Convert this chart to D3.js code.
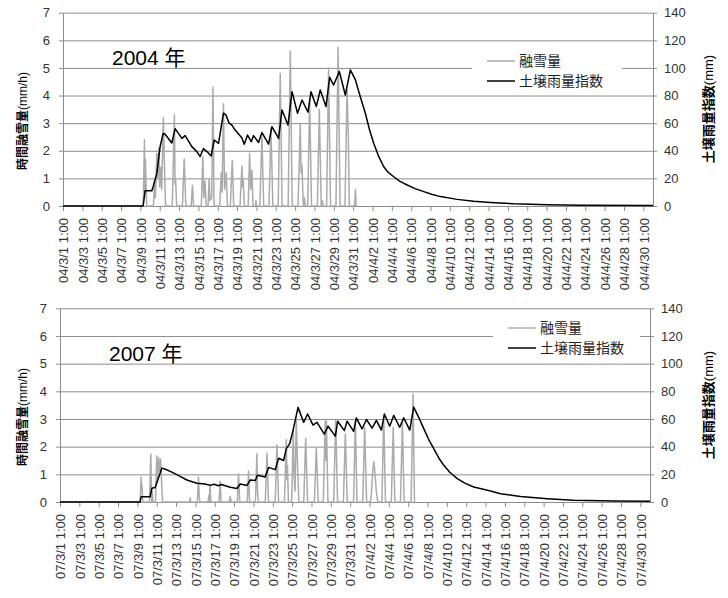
<!DOCTYPE html>
<html lang="ja">
<head>
<meta charset="UTF-8">
<title>融雪量と土壌雨量指数</title>
<script src="https://d3js.org/d3.v7.min.js"></script>
<style>
  body { margin: 0; background: #fff; }
  svg { font-family: "Liberation Sans", Arial, "Noto Sans CJK JP", sans-serif; }
  .grid line { stroke: #8c8c8c; stroke-width: 1; }
  .axis path, .axis line { stroke: #8c8c8c; }
  .axis text { fill: #333; font-size: 13px; }
</style>
</head>
<body>
<svg id="chart" width="728" height="598"></svg>
<script>
// x positions are in days since 3/1 1:00 (hourly data, Mar 1 - Apr 30)
const tickDays = [0, 2, 4, 6, 8, 10, 12, 14, 16, 18, 20, 22, 24, 26, 28, 30,
  32, 34, 36, 38, 40, 42, 44, 46, 48, 50, 52, 54, 56, 58, 60];
const tickDates = ['3/1', '3/3', '3/5', '3/7', '3/9', '3/11', '3/13', '3/15', '3/17', '3/19',
  '3/21', '3/23', '3/25', '3/27', '3/29', '3/31', '4/2', '4/4', '4/6', '4/8', '4/10',
  '4/12', '4/14', '4/16', '4/18', '4/20', '4/22', '4/24', '4/26', '4/28', '4/30'];
const leftTicks = [0, 1, 2, 3, 4, 5, 6, 7];
const rightTicks = [0, 20, 40, 60, 80, 100, 120, 140];
const seriesNames = ['融雪量', '土壌雨量指数'];

// 融雪量 (mm/h), [day, value]
const melt2004 = [
  [0, 0], [8.3, 0], [8.42, 2.4], [8.46, 0.5], [8.52, 1.7], [8.65, 0],
  [9.35, 0], [9.47, 0.9], [9.55, 0.3], [9.7, 1.9], [9.78, 1.0], [9.9, 2.1], [10.0, 0.7],
  [10.12, 1.4], [10.2, 0.6], [10.38, 3.2], [10.46, 1.9], [10.6, 0],
  [11.3, 0], [11.52, 3.3], [11.58, 0.8], [11.64, 1.0], [11.75, 0],
  [12.35, 0], [12.53, 1.7], [12.7, 0],
  [13.25, 0], [13.38, 0.75], [13.5, 0],
  [14.3, 0], [14.46, 1.8], [14.55, 0.3], [14.68, 0.9], [14.8, 0],
  [15.0, 0], [15.11, 1.0], [15.2, 0.2], [15.38, 0.3], [15.5, 4.3], [15.62, 0],
  [16.2, 0], [16.36, 1.2], [16.45, 0.5], [16.59, 3.7], [16.7, 0.6], [16.87, 1.2], [17.0, 0],
  [17.3, 0], [17.5, 1.65], [17.65, 0],
  [18.3, 0], [18.5, 1.45], [18.56, 0.7], [18.62, 1.0], [18.75, 0],
  [19.15, 0], [19.29, 1.9], [19.4, 0.6], [19.53, 1.3], [19.65, 0],
  [19.9, 0], [19.95, 0.2], [20.0, 0],
  [20.35, 0], [20.57, 2.5], [20.75, 0],
  [21.3, 0], [21.5, 2.8], [21.7, 0],
  [22.25, 0], [22.46, 4.8], [22.65, 0],
  [23.28, 0], [23.5, 5.6], [23.7, 0],
  [24.3, 0], [24.53, 2.95], [24.62, 1.2], [24.7, 1.5], [24.85, 0], [24.95, 0.3], [25.05, 0],
  [25.3, 0], [25.5, 3.85], [25.7, 0],
  [26.3, 0], [26.5, 3.5], [26.7, 0], [26.8, 0.2], [26.9, 0],
  [27.25, 0], [27.46, 5.0], [27.66, 0],
  [28.22, 0], [28.44, 5.75], [28.65, 0],
  [29.15, 0], [29.37, 4.2], [29.5, 2.5], [29.6, 0],
  [30.15, 0], [30.23, 0.6], [30.3, 0]
];

// 土壌雨量指数 (mm), [day, value]
const soil2004 = [
  [0, 0], [8.28, 0], [8.49, 11], [9.18, 11], [9.32, 14], [9.7, 23.6], [10.04, 43],
  [10.35, 52.5], [10.56, 52], [11.25, 45.6], [11.59, 56], [12.29, 49], [12.63, 51],
  [13.32, 43], [13.84, 39.4], [14.18, 35.8], [14.52, 41.6], [14.88, 39.4], [15.32, 36.2],
  [15.63, 47.8], [16.08, 45.4], [16.59, 67.2], [16.84, 66], [17.18, 60], [17.46, 58.6],
  [17.8, 55], [18.5, 49.2], [18.74, 44.8], [19.08, 51.4], [19.46, 46.6], [19.7, 51],
  [20.22, 46], [20.57, 53.2], [21.25, 44.8], [21.6, 57.4], [22.29, 49], [22.64, 69.6],
  [23.26, 58.6], [23.68, 82.8], [24.25, 67.2], [24.71, 76.8], [25.33, 68], [25.64, 82.8],
  [26.19, 72], [26.6, 84], [27.19, 72], [27.57, 93.2], [27.98, 87.6], [28.57, 97.4],
  [29.19, 80.4], [29.71, 98.6], [30.23, 91.4], [30.7, 80], [31.26, 67.2], [31.7, 55],
  [32.12, 45.4], [32.6, 36.5], [33.16, 28.4], [33.6, 24.5], [34.19, 21.2], [34.8, 18],
  [35.58, 15.2], [36.4, 12.6], [37.3, 10.4], [38.1, 8.5], [39.03, 6.8], [40.76, 4.8], [42.47, 3.4],
  [44.2, 2.6], [46.58, 1.6], [50.1, 0.9], [53.5, 0.5], [61, 0.3]
];

const melt2007 = [
  [0, 0], [8.28, 0], [8.39, 0.9], [8.44, 0.4], [8.48, 0.6], [8.56, 0],
  [9.25, 0], [9.39, 1.73], [9.48, 0], [9.55, 0.4], [9.62, 0],
  [9.88, 0], [10.0, 1.67], [10.08, 0.7], [10.2, 1.6], [10.3, 1.1], [10.4, 1.55], [10.5, 0.75], [10.6, 0],
  [13.4, 0], [13.46, 0.15], [13.52, 0],
  [14.2, 0], [14.32, 0.9], [14.38, 0.3], [14.45, 0],
  [15.3, 0], [15.4, 0.25], [15.44, 0], [15.5, 0.64], [15.6, 0],
  [16.45, 0], [16.56, 0.75], [16.66, 0],
  [17.5, 0], [17.6, 0.2], [17.7, 0],
  [18.33, 0], [18.46, 1.02], [18.58, 0],
  [19.36, 0], [19.49, 1.12], [19.6, 0],
  [20.2, 0], [20.36, 1.74], [20.42, 0.4], [20.5, 0],
  [21.22, 0], [21.4, 1.76], [21.55, 0],
  [22.25, 0], [22.43, 2.07], [22.6, 0],
  [23.2, 0], [23.4, 2.25], [23.46, 0.8], [23.52, 1.3], [23.62, 0],
  [23.95, 0], [24.12, 2.6], [24.2, 1.0], [24.3, 0.4], [24.43, 3.0], [24.55, 1.4], [24.7, 0],
  [25.2, 0], [25.4, 2.3], [25.6, 0],
  [26.3, 0], [26.5, 1.95], [26.7, 0],
  [27.22, 0], [27.43, 3.0], [27.5, 1.5], [27.55, 2.9], [27.7, 0],
  [28.3, 0], [28.5, 2.95], [28.7, 0],
  [29.3, 0], [29.5, 2.45], [29.7, 0],
  [30.35, 0], [30.54, 2.97], [30.7, 0],
  [31.3, 0], [31.5, 2.7], [31.7, 0],
  [32.1, 0], [32.2, 0.3], [32.35, 1.2], [32.45, 1.45], [32.55, 1.1], [32.7, 0.4], [32.85, 0],
  [33.28, 0], [33.47, 3.1], [33.65, 0],
  [34.25, 0], [34.45, 2.7], [34.62, 0],
  [35.2, 0], [35.4, 2.9], [35.58, 0],
  [36.3, 0], [36.5, 3.9], [36.58, 1.8], [36.65, 0]
];

const soil2007 = [
  [0, 0], [8.28, 0], [8.39, 3.8], [9.32, 3.8], [9.49, 9.9], [9.83, 10.5], [10.28, 19.4],
  [10.53, 24.5], [10.97, 23.5], [11.73, 21], [12.42, 18.5], [13.12, 15.9], [14.15, 13.5],
  [15.01, 13], [15.53, 12], [15.94, 12.8], [16.36, 11.8], [16.67, 12.6], [17.6, 10.6],
  [18.29, 9.8], [18.63, 13], [19.33, 12], [19.67, 15.9], [20.19, 15.5], [20.42, 19.4],
  [21.22, 18], [21.56, 25], [22.26, 23.4], [22.6, 31.6], [23.12, 30], [23.4, 38.6],
  [23.74, 42], [24.09, 51.6], [24.61, 68.4], [25.19, 57.6], [25.6, 63.6], [26.16, 55.6],
  [26.57, 57.6], [27.33, 49], [27.71, 54.8], [28.47, 47.6], [28.71, 58.4], [29.4, 51.6],
  [29.68, 58.4], [30.36, 51], [30.64, 60.8], [31.23, 52.8], [31.68, 59.6], [32.27, 53.4],
  [32.71, 59], [33.23, 52], [33.54, 63.6], [34.09, 54.8], [34.5, 62.6], [35.12, 54],
  [35.54, 60.8], [36.16, 52], [36.57, 68.6], [37.1, 61], [37.61, 53], [38.1, 45.5],
  [38.64, 38.6], [39.15, 32], [39.68, 26.5], [40.3, 21.5], [41.07, 16.9], [41.9, 13.5],
  [42.78, 10.8], [44.51, 8], [45.55, 6], [47.62, 4], [50.38, 2.4],
  [53.1, 1.2], [57.25, 0.7], [61, 0.5]
];

const panels = [
  { yy: '04', title: '2004 年', melt: melt2004, soil: soil2004,
    x0: 63, y0: 206, yTop: 12.7, clipTop: 0, clipBottom: 294,
    legX: 472, legW: 150, legY: 61 },
  { yy: '07', title: '2007 年', melt: melt2007, soil: soil2007,
    x0: 60, y0: 502, yTop: 308.3, clipTop: 294, clipBottom: 598,
    legX: 493, legW: 147, legY: 328 }
];

const svg = d3.select('#chart');
const plotW = 590;

panels.forEach((p, i) => {
  const clipId = 'clip' + i;
  svg.append('clipPath').attr('id', clipId)
    .append('rect').attr('x', 0).attr('y', p.clipTop).attr('width', 728)
    .attr('height', p.clipBottom - p.clipTop);

  const g = svg.append('g').attr('clip-path', `url(#${clipId})`);
  const x = d3.scaleLinear().domain([0, 61]).range([p.x0, p.x0 + plotW]);
  const yL = d3.scaleLinear().domain([0, 7]).range([p.y0, p.yTop]);
  const yR = d3.scaleLinear().domain([0, 140]).range([p.y0, p.yTop]);

  // gridlines
  g.append('g')
    .attr('class', 'grid')
    .attr('transform', `translate(${p.x0},0)`)
    .call(d3.axisLeft(yL).tickValues(leftTicks).tickSize(-plotW).tickFormat(''))
    .call(s => s.select('.domain').remove());

  // left axis
  g.append('g')
    .attr('class', 'axis')
    .attr('transform', `translate(${p.x0},0)`)
    .call(d3.axisLeft(yL).tickValues(leftTicks).tickFormat(d3.format('d'))
      .tickSize(4).tickSizeOuter(0).tickPadding(9));

  // right axis
  g.append('g')
    .attr('class', 'axis')
    .attr('transform', `translate(${p.x0 + plotW},0)`)
    .call(d3.axisRight(yR).tickValues(rightTicks).tickFormat(d3.format('d'))
      .tickSize(4).tickSizeOuter(0).tickPadding(7));

  // bottom axis with rotated date labels
  const xAxis = g.append('g')
    .attr('class', 'axis')
    .attr('transform', `translate(0,${p.y0})`)
    .call(d3.axisBottom(x).tickValues(tickDays).tickSize(5).tickSizeOuter(0)
      .tickFormat((d, k) => `${p.yy}/${tickDates[k]} 1:00`));
  xAxis.selectAll('text')
    .attr('text-anchor', 'end')
    .attr('transform', 'rotate(-90)')
    .attr('x', -12)
    .attr('y', 0)
    .attr('dy', '0.36em');

  // series
  const lineL = d3.line().x(d => x(d[0])).y(d => yL(d[1]));
  const lineR = d3.line().x(d => x(d[0])).y(d => yR(d[1]));
  g.append('path').datum(p.melt)
    .attr('fill', 'none').attr('stroke', '#ababab').attr('stroke-width', 1.5)
    .attr('stroke-linejoin', 'round').attr('d', lineL);
  g.append('path').datum(p.soil)
    .attr('fill', 'none').attr('stroke', '#000').attr('stroke-width', 1.5)
    .attr('stroke-linejoin', 'round').attr('d', lineR);

  // year label
  g.append('text')
    .attr('x', p.x0 + 49).attr('y', p.y0 - 141)
    .attr('font-size', 21).attr('fill', '#000')
    .text(p.title);

  // legend
  const leg = g.append('g');
  leg.append('rect')
    .attr('x', p.legX).attr('y', p.legY - 13)
    .attr('width', p.legW).attr('height', 44).attr('fill', '#fff');
  seriesNames.forEach((name, k) => {
    const ly = p.legY + k * 20;
    leg.append('line')
      .attr('x1', p.legX + 15).attr('x2', p.legX + 43)
      .attr('y1', ly).attr('y2', ly)
      .attr('stroke', k === 0 ? '#ababab' : '#000').attr('stroke-width', 1.5);
    leg.append('text')
      .attr('x', p.legX + 47).attr('y', ly).attr('dy', '0.35em')
      .attr('font-size', 14).attr('fill', '#222')
      .text(name);
  });

  // axis titles
  const lt = g.append('text')
    .attr('transform', `translate(23,${p.y0 - 85}) rotate(-90)`)
    .attr('text-anchor', 'middle').attr('dy', '0.35em')
    .attr('font-size', 12).attr('fill', '#000');
  lt.append('tspan').attr('font-weight', 'bold').text('時間融雪量');
  lt.append('tspan').text('(mm/h)');

  const rt = g.append('text')
    .attr('transform', `translate(708,${p.y0 - 97}) rotate(-90)`)
    .attr('text-anchor', 'middle').attr('dy', '0.35em')
    .attr('font-size', 13).attr('fill', '#000');
  rt.append('tspan').attr('font-weight', 'bold').text('土壌雨量指数');
  rt.append('tspan').text('(mm)');
});
</script>
</body>
</html>
